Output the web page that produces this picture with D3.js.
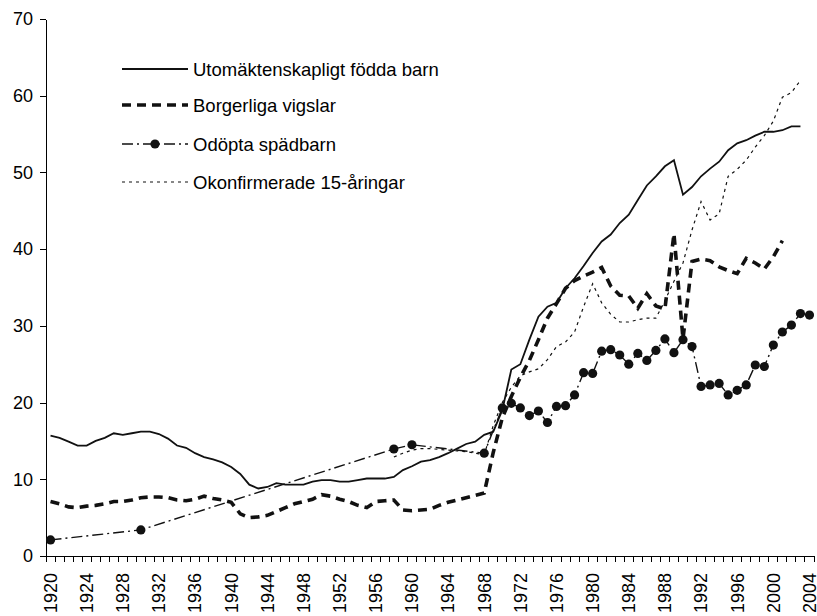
<!DOCTYPE html>
<meta charset="utf-8">
<head>
  <style>
  body{
    margin: 0;
    background-color: #fff;
    font-family: "Liberation Sans", Arial, sans-serif;
  }
  .axis path,
  .axis line {
    fill: none;
    stroke: #000;
    shape-rendering: crispEdges;
  }
  .axis text{
    font-size: 18px;
    fill: #000;
  }
  .legend text{
    font-size: 18.5px;
    fill: #000;
  }
  </style>
</head>
<body>
<div id="graph"></div>
<script src="https://d3js.org/d3.v7.min.js"></script>
<script>

var years = d3.range(1920, 2005);
var yTicks = [0, 10, 20, 30, 40, 50, 60, 70];
var labelYears = [1920,1924,1928,1932,1936,1940,1944,1948,1952,1956,1960,1964,1968,1972,1976,1980,1984,1988,1992,1996,2000,2004];

var names = ["Utomäktenskapligt födda barn", "Borgerliga vigslar", "Odöpta spädbarn", "Okonfirmerade 15-åringar"];

// 1920 - 2004, null = no value
var utom = [15.7,15.4,14.9,14.4,14.4,15.0,15.4,16.0,15.8,16.0,
  16.2,16.2,15.9,15.3,14.4,14.1,13.4,12.9,12.6,12.2,
  11.6,10.7,9.3,8.8,9.0,9.5,9.3,9.3,9.3,9.7,
  9.9,9.9,9.7,9.7,9.9,10.1,10.1,10.1,10.3,11.2,
  11.7,12.3,12.5,12.9,13.4,14.0,14.6,14.9,15.8,16.2,
  19.0,24.3,25.0,28.2,31.2,32.5,33.0,34.9,36.2,37.8,
  39.5,41.0,41.9,43.4,44.5,46.4,48.3,49.5,50.8,51.6,
  47.1,48.1,49.5,50.5,51.4,52.9,53.8,54.2,54.8,55.3,
  55.3,55.5,56.0,56.0,null];

var borg = [7.1,6.8,6.4,6.3,6.5,6.6,6.8,7.1,7.1,7.3,
  7.6,7.7,7.7,7.6,7.3,7.2,7.4,7.8,7.5,7.3,
  7.0,5.5,5.0,5.1,5.3,5.8,6.3,6.8,7.1,7.4,
  8.0,7.8,7.4,7.1,6.6,6.3,7.1,7.2,7.3,6.0,
  5.9,6.0,6.1,6.6,7.0,7.3,7.6,7.9,8.2,13.5,
  18.0,20.8,23.3,25.5,28.2,31.0,32.9,34.9,35.9,36.5,
  37.0,37.6,35.2,34.0,33.9,32.3,34.2,32.6,32.2,42.0,
  28.3,38.4,38.7,38.5,37.7,37.2,36.8,38.8,38.2,37.4,
  39.0,41.1,null,null,null];

var odop = [2.1,null,null,null,null,null,null,null,null,null,
  3.4,null,null,null,null,null,null,null,null,null,
  null,null,null,null,null,null,null,null,null,null,
  null,null,null,null,null,null,null,null,13.95,null,
  14.5,null,null,null,null,null,null,null,13.4,null,
  19.3,19.9,19.3,18.3,18.9,17.4,19.5,19.6,21.0,23.9,
  23.8,26.7,26.9,26.2,25.0,26.4,25.5,26.8,28.3,26.5,
  28.2,27.3,22.1,22.3,22.5,21.0,21.6,22.3,24.9,24.7,
  27.5,29.2,30.1,31.6,31.4];

var okon = [null,null,null,null,null,null,null,null,null,null,
  null,null,null,null,null,null,null,null,null,null,
  null,null,null,null,null,null,null,null,null,null,
  null,null,null,null,null,null,null,null,12.9,13.4,
  13.8,14.0,14.0,13.9,13.8,13.7,13.6,13.4,13.2,17.0,
  20.0,22.0,23.5,24.0,24.4,25.6,27.3,27.9,29.2,32.5,
  35.5,33.0,31.5,30.5,30.5,30.8,31.0,31.0,33.3,35.8,
  38.2,42.5,46.2,43.8,44.6,49.5,50.4,51.6,53.3,54.8,
  56.7,59.8,60.4,62.0,null];

var W = 817, H = 616;
var plotL = 46, plotR = 814, plotT = 19, plotB = 556;

var svg = d3.select("#graph").append("svg")
  .attr("width", W)
  .attr("height", H);

var x = d3.scaleBand()
  .domain(years)
  .range([plotL, plotR]);

var y = d3.scaleLinear()
  .domain([0, 70])
  .range([plotB, plotT]);

// y axis
svg.append("g")
  .attr("class", "axis")
  .attr("transform", "translate(" + plotL + ",0)")
  .call(d3.axisLeft(y).tickValues(yTicks).tickSize(6).tickPadding(7).tickSizeOuter(0));

// x axis: labels at band centres, tick marks at band edges
var xg = svg.append("g")
  .attr("class", "axis")
  .attr("transform", "translate(0," + plotB + ")")
  .call(d3.axisBottom(x).tickValues(labelYears).tickSize(0).tickSizeOuter(0));

xg.selectAll(".tick text")
  .attr("transform", "rotate(-90)")
  .attr("text-anchor", "end")
  .attr("x", -17)
  .attr("y", 0)
  .attr("dy", ".35em");

xg.selectAll(".edge")
  .data(years.concat([null]))
  .enter().append("line")
  .attr("class", "edge")
  .attr("x1", function(d){ return d == null ? plotR : x(d); })
  .attr("x2", function(d){ return d == null ? plotR : x(d); })
  .attr("y1", 0)
  .attr("y2", 6);

var series = [
  {name: names[0], values: utom, width: 1.8, dash: null, dots: false},
  {name: names[1], values: borg, width: 3.6, dash: "9,6", dots: false},
  {name: names[2], values: odop, width: 1.4, dash: "11,4,2,4", dots: true},
  {name: names[3], values: okon, width: 1.2, dash: "3,4", dots: false}
];

var line = d3.line()
  .x(function(d){ return x(d.year) + x.bandwidth()/2; })
  .y(function(d){ return y(d.v); });

series.forEach(function(s){
  var pts = years.map(function(yr, i){ return {year: yr, v: s.values[i]}; })
    .filter(function(d){ return d.v != null; });

  svg.append("path")
    .datum(pts)
    .attr("fill", "none")
    .attr("stroke", "#111")
    .attr("stroke-width", s.width)
    .attr("stroke-dasharray", s.dash)
    .attr("d", line);

  if (s.dots){
    svg.selectAll(".dot")
      .data(pts)
      .enter().append("circle")
      .attr("class", "dot")
      .attr("cx", function(d){ return x(d.year) + x.bandwidth()/2; })
      .attr("cy", function(d){ return y(d.v); })
      .attr("r", 4.6)
      .attr("fill", "#111");
  }
});

// legend
var lg = svg.append("g").attr("class", "legend");
var rows = [69, 105, 144, 182];

series.forEach(function(s, i){
  var g = lg.append("g").attr("transform", "translate(0," + rows[i] + ")");
  g.append("line")
    .attr("x1", 122).attr("x2", 188)
    .attr("y1", 0).attr("y2", 0)
    .attr("stroke", "#111")
    .attr("stroke-width", s.width)
    .attr("stroke-dasharray", s.dash);
  if (s.dots){
    g.append("circle").attr("cx", 155).attr("cy", 0).attr("r", 4.6).attr("fill", "#111");
  }
  g.append("text")
    .attr("x", 193)
    .attr("dy", ".36em")
    .text(s.name);
});

</script>
</body>
</html>
